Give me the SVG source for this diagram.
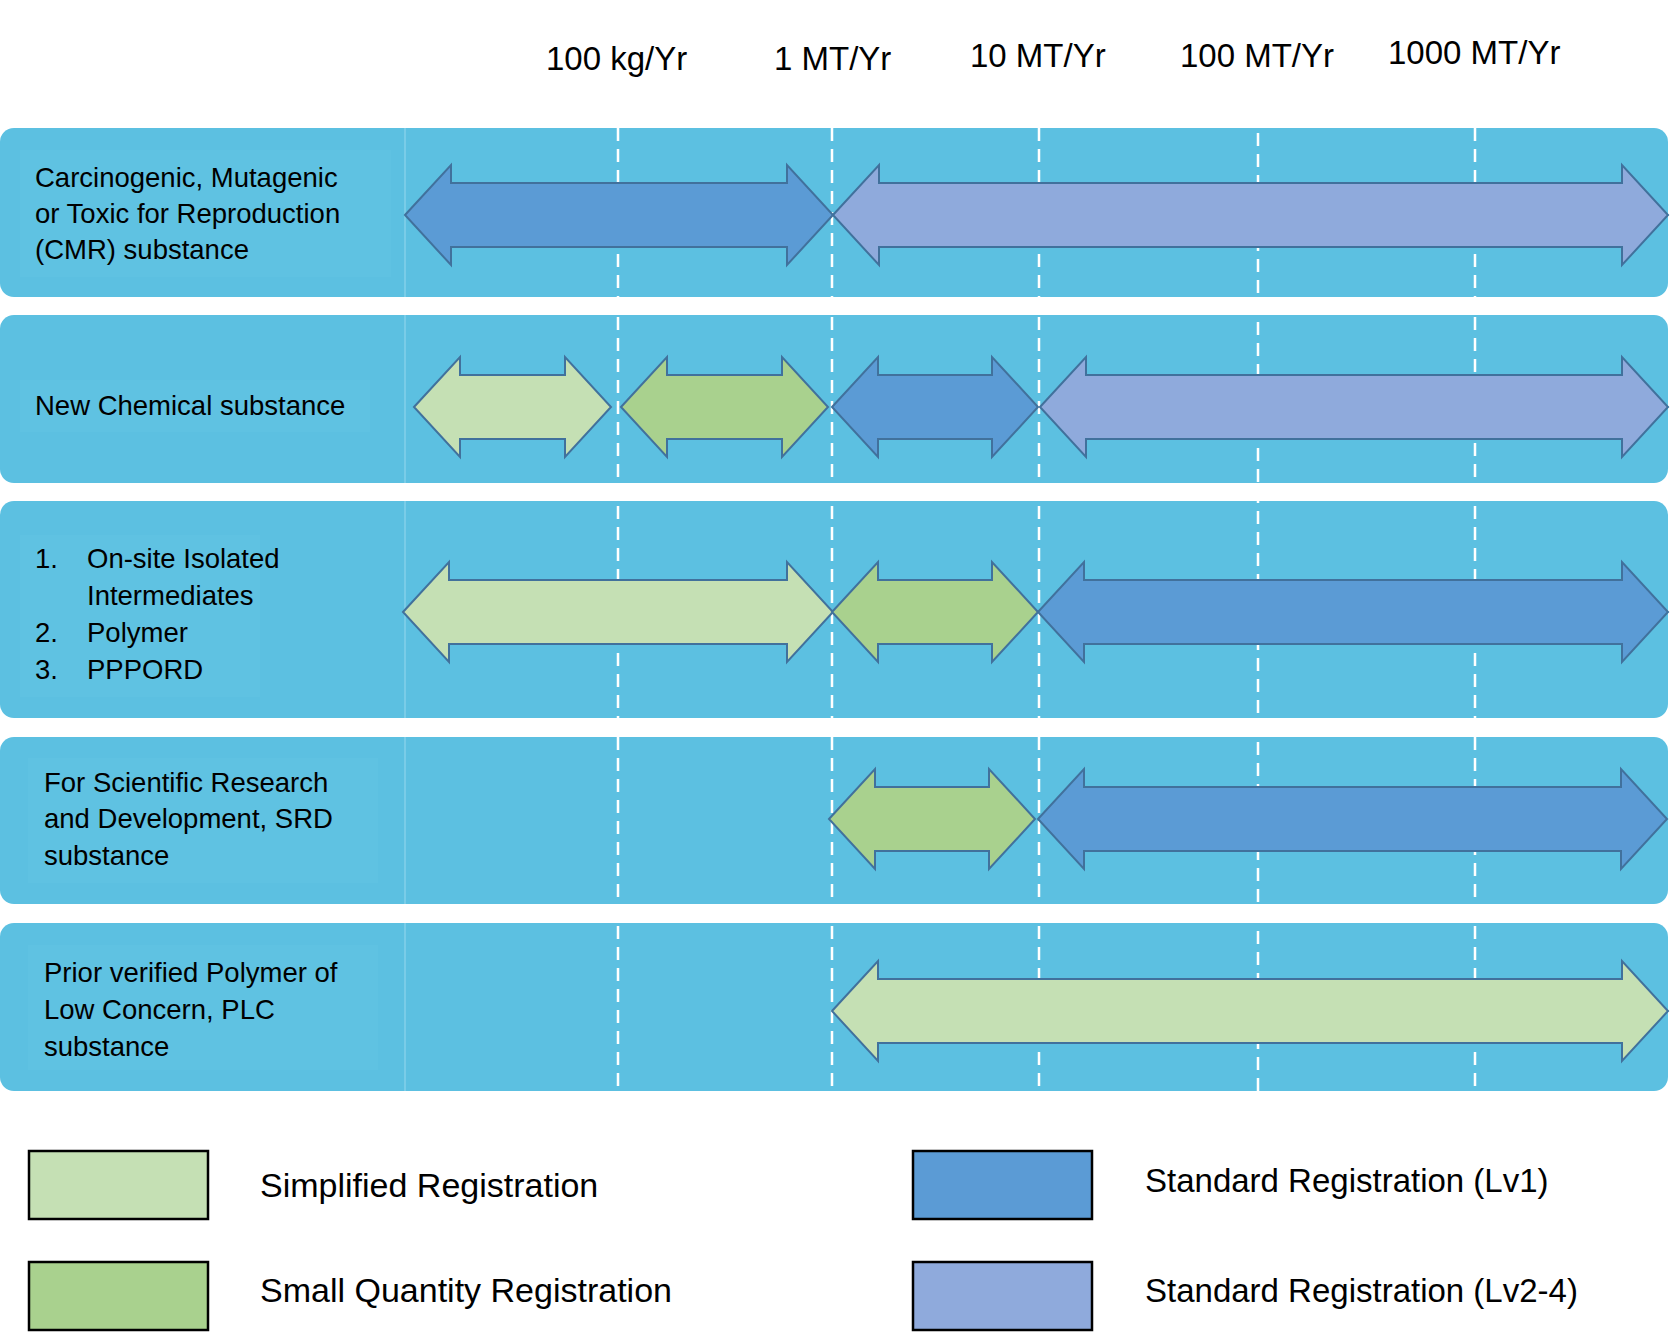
<svg xmlns="http://www.w3.org/2000/svg" width="1670" height="1336" viewBox="0 0 1670 1336">
<style>
.row{fill:#5CC0E1}
.lab{fill:#5FC2E2}
.div{stroke:#8DD4EC;stroke-width:1.2}
.dash{stroke:#FFFFFF;stroke-width:2.5;stroke-dasharray:13 8;fill:none}
.arr{stroke:#41719C;stroke-width:2;stroke-linejoin:miter}
.simp{fill:#C5E0B4}
.small{fill:#A9D18E}
.lv1{fill:#5B9BD5}
.lv2{fill:#8FAADC}
.hdr{font-family:"Liberation Sans",Arial,sans-serif;font-size:33px;fill:#000}
.t{font-family:"Liberation Sans",Arial,sans-serif;font-size:27.5px;fill:#000}
.leg{font-family:"Liberation Sans",Arial,sans-serif;font-size:33px;fill:#000}
.legl{font-size:34px}
.lbox{stroke:#000;stroke-width:2.5}
</style>
<rect width="1670" height="1336" fill="#FFFFFF"/>

<g id="header">
<text class="hdr" x="546" y="70">100 kg/Yr</text>
<text class="hdr" x="774" y="70">1 MT/Yr</text>
<text class="hdr" x="970" y="67">10 MT/Yr</text>
<text class="hdr" x="1180" y="67">100 MT/Yr</text>
<text class="hdr" x="1388" y="64">1000 MT/Yr</text>
</g>

<g id="row-cmr">
<rect class="row" x="0" y="128" width="1668" height="169" rx="14"/>
<rect class="lab" x="20" y="150" width="371" height="127"/>
<line class="div" x1="405" y1="128" x2="405" y2="297"/>
<text class="t" x="35" y="187">Carcinogenic, Mutagenic</text>
<text class="t" x="35" y="223">or Toxic for Reproduction</text>
<text class="t" x="35" y="259">(CMR) substance</text>
</g>

<g id="row-new">
<rect class="row" x="0" y="315" width="1668" height="168" rx="14"/>
<rect class="lab" x="20" y="380" width="350" height="52"/>
<line class="div" x1="405" y1="315" x2="405" y2="483"/>
<text class="t" x="35" y="415">New Chemical substance</text>
</g>

<g id="row-list">
<rect class="row" x="0" y="501" width="1668" height="217" rx="14"/>
<rect class="lab" x="20" y="535" width="240" height="162"/>
<line class="div" x1="405" y1="501" x2="405" y2="718"/>
<text class="t" x="35" y="568">1.</text>
<text class="t" x="87" y="568">On-site Isolated</text>
<text class="t" x="87" y="605">Intermediates</text>
<text class="t" x="35" y="642">2.</text>
<text class="t" x="87" y="642">Polymer</text>
<text class="t" x="35" y="679">3.</text>
<text class="t" x="87" y="679">PPPORD</text>
</g>

<g id="row-srd">
<rect class="row" x="0" y="737" width="1668" height="167" rx="14"/>
<rect class="lab" x="28" y="758" width="350" height="125"/>
<line class="div" x1="405" y1="737" x2="405" y2="904"/>
<text class="t" x="44" y="792">For Scientific Research</text>
<text class="t" x="44" y="828">and Development, SRD</text>
<text class="t" x="44" y="865">substance</text>
</g>

<g id="row-plc">
<rect class="row" x="0" y="923" width="1668" height="168" rx="14"/>
<rect class="lab" x="28" y="945" width="350" height="125"/>
<line class="div" x1="405" y1="923" x2="405" y2="1091"/>
<text class="t" x="44" y="982">Prior verified Polymer of</text>
<text class="t" x="44" y="1019">Low Concern, PLC</text>
<text class="t" x="44" y="1056">substance</text>
</g>

<g id="gridlines">
<line class="dash" x1="618" y1="128" x2="618" y2="1091"/>
<line class="dash" x1="832" y1="128" x2="832" y2="1091"/>
<line class="dash" x1="1039" y1="128" x2="1039" y2="1091"/>
<line class="dash" x1="1258" y1="133" x2="1258" y2="1091"/>
<line class="dash" x1="1475" y1="128" x2="1475" y2="1091"/>
</g>

<g id="connectors">
<path id="a1" class="arr lv1" d="M405,215 L451,165 L451,183 L787,183 L787,165 L833,215 L787,265 L787,247 L451,247 L451,265 Z"/>
<path id="a2" class="arr lv2" d="M833,215 L879,165 L879,183 L1622,183 L1622,165 L1668,215 L1622,265 L1622,247 L879,247 L879,265 Z"/>
<path id="a3" class="arr simp" d="M414,407 L460,357 L460,375 L565,375 L565,357 L611,407 L565,457 L565,439 L460,439 L460,457 Z"/>
<path id="a4" class="arr small" d="M621,407 L667,357 L667,375 L782,375 L782,357 L828,407 L782,457 L782,439 L667,439 L667,457 Z"/>
<path id="a5" class="arr lv1" d="M832,407 L878,357 L878,375 L992,375 L992,357 L1038,407 L992,457 L992,439 L878,439 L878,457 Z"/>
<path id="a6" class="arr lv2" d="M1040,407 L1086,357 L1086,375 L1622,375 L1622,357 L1668,407 L1622,457 L1622,439 L1086,439 L1086,457 Z"/>
<path id="a7" class="arr simp" d="M403,612 L449,562 L449,580 L787,580 L787,562 L833,612 L787,662 L787,644 L449,644 L449,662 Z"/>
<path id="a8" class="arr small" d="M832,612 L878,562 L878,580 L992,580 L992,562 L1038,612 L992,662 L992,644 L878,644 L878,662 Z"/>
<path id="a9" class="arr lv1" d="M1038,612 L1084,562 L1084,580 L1622,580 L1622,562 L1668,612 L1622,662 L1622,644 L1084,644 L1084,662 Z"/>
<path id="a10" class="arr small" d="M829,819 L875,769 L875,787 L989,787 L989,769 L1035,819 L989,869 L989,851 L875,851 L875,869 Z"/>
<path id="a11" class="arr lv1" d="M1038,819 L1084,769 L1084,787 L1621,787 L1621,769 L1667,819 L1621,869 L1621,851 L1084,851 L1084,869 Z"/>
<path id="a12" class="arr simp" d="M832,1011 L878,961 L878,979 L1622,979 L1622,961 L1668,1011 L1622,1061 L1622,1043 L878,1043 L878,1061 Z"/>
</g>

<g id="legend">
<g id="leg-simplified">
<rect class="lbox simp" x="29" y="1151" width="179" height="68"/>
<text class="leg legl" x="260" y="1197">Simplified Registration</text>
</g>
<g id="leg-small">
<rect class="lbox small" x="29" y="1262" width="179" height="68"/>
<text class="leg legl" x="260" y="1302">Small Quantity Registration</text>
</g>
<g id="leg-lv1">
<rect class="lbox lv1" x="913" y="1151" width="179" height="68"/>
<text class="leg" x="1145" y="1192">Standard Registration (Lv1)</text>
</g>
<g id="leg-lv2">
<rect class="lbox lv2" x="913" y="1262" width="179" height="68"/>
<text class="leg" x="1145" y="1302">Standard Registration (Lv2-4)</text>
</g>
</g>
</svg>
